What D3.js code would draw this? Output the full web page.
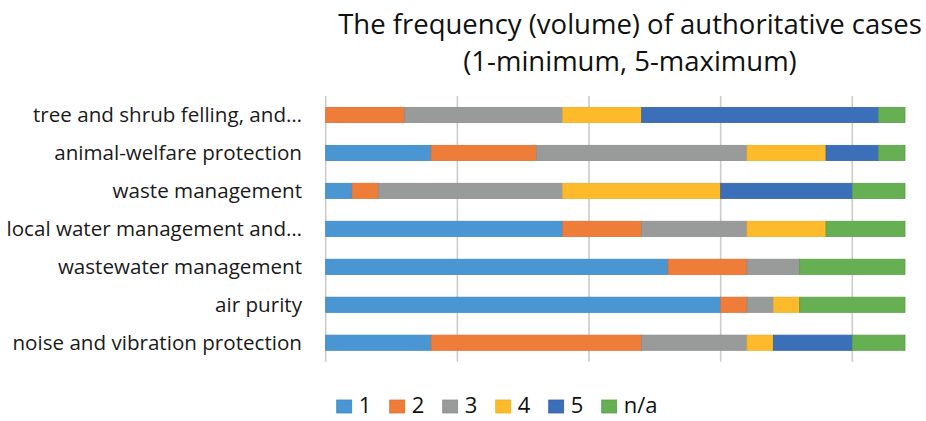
<!DOCTYPE html>
<html><head><meta charset="utf-8">
<script src="https://cdn.jsdelivr.net/npm/d3@7"></script>
<style>body{margin:0;background:#fff}svg{display:block}</style>
</head><body><svg id="c" width="926" height="421"></svg>
<script>
const categories = ["tree and shrub felling, and\u2026","animal-welfare protection","waste management","local water management and\u2026","wastewater management","air purity","noise and vibration protection"];
const seriesNames = ["1","2","3","4","5","n/a"];
const s1  = [0, 4, 1, 9, 13, 15, 4];
const s2  = [3, 4, 1, 3, 3, 1, 8];
const s3  = [6, 8, 7, 4, 2, 1, 4];
const s4  = [3, 3, 6, 3, 0, 1, 1];
const s5  = [9, 2, 5, 0, 0, 0, 3];
const sNA = [1, 1, 2, 3, 4, 4, 2];
const xTicks = [0, 5, 10, 15, 20];
const xMax = 22;
const colors = ["#4A96D2","#EF7D3A","#999B9B","#FDBB2B","#3B70B8","#67AF53"];
const strokes = ["#3F88C5","#E06F2E","#8C8E8E","#F0AE20","#3263A8","#5AA047"];

const svg = d3.select("#c");
const font = "'Open Sans', sans-serif";
const x = d3.scaleLinear().domain([0, xMax]).range([325.7, 905]);
const y = d3.scaleBand().domain(categories).range([96, 361.7]).paddingInner(0.6).paddingOuter(0.3);

const rows = categories.map((c,i)=>({cat:c, "1":s1[i],"2":s2[i],"3":s3[i],"4":s4[i],"5":s5[i],"n/a":sNA[i]}));
const stack = d3.stack().keys(seriesNames)(rows);

// gridlines
svg.append("g").selectAll("line").data(xTicks).join("line")
  .attr("x1",d=>x(d)).attr("x2",d=>x(d)).attr("y1",96).attr("y2",361.7)
  .attr("stroke","#CBCBCB").attr("stroke-width",1.6);

// bars
stack.forEach((layer,k)=>{
  svg.append("g").selectAll("rect").data(layer).join("rect")
    .attr("x",d=>x(d[0])).attr("width",d=>x(d[1])-x(d[0]))
    .attr("y",d=>y(d.data.cat)).attr("height",y.bandwidth())
    .attr("fill",colors[k]).attr("stroke",d=>(d[1]-d[0])>0?strokes[k]:"none").attr("stroke-width",0.8);
});

// category labels
svg.append("g").selectAll("text").data(categories).join("text")
  .attr("x",302).attr("y",d=>y(d)+y.bandwidth()/2).attr("dy","0.35em")
  .attr("text-anchor","end").attr("font-family",font).attr("font-size",20.6).attr("fill","#1a1a1a")
  .text(d=>d);

// title
const title = svg.append("text").attr("text-anchor","middle").attr("font-family",font).attr("font-size",27.5).attr("fill","#111");
title.append("tspan").attr("x",630).attr("y",34).text("The frequency (volume) of authoritative cases");
title.append("tspan").attr("x",630).attr("y",71).text("(1-minimum, 5-maximum)");

// legend
const lx = d3.scalePoint().domain(seriesNames).range([336.7, 601.7]);
const lg = svg.append("g").selectAll("g").data(seriesNames).join("g");
lg.append("rect").attr("x",d=>lx(d)).attr("y",400).attr("width",15).attr("height",13)
  .attr("fill",(d,i)=>colors[i]).attr("stroke",(d,i)=>strokes[i]).attr("stroke-width",0.8);
lg.append("text").attr("x",d=>lx(d)+22).attr("y",413)
  .attr("font-family",font).attr("font-size",22).attr("fill","#111").text(d=>d);
</script></body></html>
